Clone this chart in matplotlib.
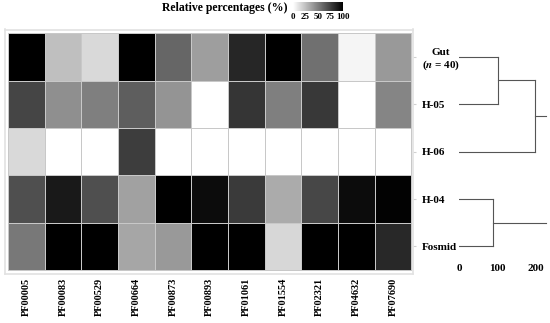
import numpy as np
import matplotlib.pyplot as plt
from matplotlib.colors import LinearSegmentedColormap

plt.rcParams['font.family'] = ['Liberation Serif', 'DejaVu Serif']
plt.rcParams['font.weight'] = 'bold'
plt.rcParams['mathtext.fontset'] = 'stix'

families = ['PF00005', 'PF00083', 'PF00529', 'PF00664', 'PF00873', 'PF00893',
            'PF01061', 'PF01554', 'PF02321', 'PF04632', 'PF07690']
samples = ['Gut\n($\\mathbfit{n}$ = 40)', 'H-05', 'H-06', 'H-04', 'Fosmid']

# relative percentages
gut = [100, 25, 15, 100, 60, 38, 85, 100, 56, 4, 40]
h05 = [73, 44, 50, 63, 42, 0, 79, 50, 78, 0, 48]
h06 = [15, 0, 0, 76, 0, 0, 0, 0, 0, 0, 0]
h04 = [69, 90, 69, 37, 100, 95, 77, 33, 72, 95, 99]
fosmid = [53, 100, 100, 35, 40, 100, 100, 16, 100, 100, 84]
values = np.array([gut, h05, h06, h04, fosmid])

# dendrogram merge heights
merge_gut_h05 = 100
merge_h06 = 197
merge_h04_fos = 89
root_end = 227

cmap = LinearSegmentedColormap.from_list('wb', ['white', 'black'])

fig = plt.figure(figsize=(5.5, 3.23), dpi=100)
W, H = 550, 323

def px_axes(x0, y0, x1, y1):
    return fig.add_axes([x0 / W, 1 - y1 / H, (x1 - x0) / W, (y1 - y0) / H])

# heatmap
ax = px_axes(5, 29.5, 413.5, 273.5)
im = ax.pcolormesh(values, cmap=cmap, vmin=0, vmax=100,
                   edgecolor='#c8c8c8', linewidth=0.5)
ax.set_xlim(-0.08, 11.06)
ax.set_ylim(5.07, -0.08)
for s in ax.spines.values():
    s.set_color('#e2e2e2')
    s.set_linewidth(1.2)
ax.set_xticks(np.arange(11) + 0.5)
ax.set_xticklabels(families, rotation=90, fontsize=7.5, fontweight='bold')
ax.tick_params(axis='x', length=0, pad=3)
ax.set_yticks(np.arange(5) + 0.5)
ax.yaxis.tick_right()
ax.set_yticklabels(samples, fontsize=8, fontweight='bold', ha='left',
                   multialignment='center')
ax.tick_params(axis='y', length=2, color='#d0d0d0', pad=4)

# colorbar
cax = px_axes(293, 2, 343, 11)
cb = fig.colorbar(im, cax=cax, orientation='horizontal')
cb.outline.set_visible(False)
cb.set_ticks([0, 25, 50, 75, 100])
cax.tick_params(length=0, pad=1.5, labelsize=6.5)
for t in cax.get_xticklabels():
    t.set_fontweight('bold')
fig.text(288 / W, 1 - 8 / H, 'Relative percentages (%)', ha='right',
         va='center', fontsize=8.5, fontweight='bold')

# dendrogram
dax = px_axes(459, 33, 548, 258)
dax.patch.set_visible(False)
rows_px = 47.4
dax.set_ylim(-0.5 + 225 / rows_px, -0.5)
dax.set_xlim(0, 231)
lc = '#555555'
lw = 0.8
mid1 = 0.5
dax.plot([0, merge_gut_h05], [0, 0], color=lc, lw=lw)
dax.plot([0, merge_gut_h05], [1, 1], color=lc, lw=lw)
dax.plot([merge_gut_h05, merge_gut_h05], [0, 1], color=lc, lw=lw)
dax.plot([merge_gut_h05, merge_h06], [mid1, mid1], color=lc, lw=lw)
dax.plot([0, merge_h06], [2, 2], color=lc, lw=lw)
dax.plot([merge_h06, merge_h06], [mid1, 2], color=lc, lw=lw)
mid2 = (mid1 + 2) / 2
dax.plot([merge_h06, root_end], [mid2, mid2], color=lc, lw=lw)
dax.plot([0, merge_h04_fos], [3, 3], color=lc, lw=lw)
dax.plot([0, merge_h04_fos], [4, 4], color=lc, lw=lw)
dax.plot([merge_h04_fos, merge_h04_fos], [3, 4], color=lc, lw=lw)
dax.plot([merge_h04_fos, root_end], [3.5, 3.5], color=lc, lw=lw)
for s in dax.spines.values():
    s.set_visible(False)
dax.set_yticks([])
dax.set_xticks([0, 100, 200])
dax.tick_params(axis='x', length=0, pad=4, labelsize=8)
for t in dax.get_xticklabels():
    t.set_fontweight('bold')

fig.savefig('out.png', dpi=100)
